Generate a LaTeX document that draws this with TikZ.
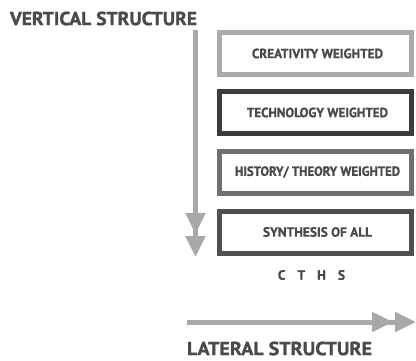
\documentclass[tikz,border=0pt]{standalone}
\usepackage{fontspec}
\setmainfont{PT Sans}[BoldFeatures={FakeBold=1.2}]
\usetikzlibrary{arrows.meta}
\definecolor{arrowgray}{HTML}{A8A8A8}
\definecolor{txtgray}{HTML}{4A4A4A}
\definecolor{boxA}{HTML}{ABABAB}
\definecolor{boxB}{HTML}{3C3C3C}
\definecolor{boxC}{HTML}{707070}
\definecolor{boxD}{HTML}{505050}
\tikzset{
  wbox/.style={draw, line width=5pt, fill=white, minimum width=192pt, minimum height=42pt, inner sep=0pt},
  boxlabel/.style={text=txtgray, font=\bfseries, inner sep=0pt},
  title/.style={text=txtgray, font=\bfseries, inner sep=0pt},
  bigarrow/.style={draw=arrowgray, line width=5pt,
    -{Triangle[length=21pt,width=19pt,fill=arrowgray,sep=2pt]Triangle[length=21pt,width=19pt,fill=arrowgray]}}
}
\begin{document}
\begin{tikzpicture}[x=1pt,y=-1pt]
\useasboundingbox[fill=white] (0,0) rectangle (416,360);
\node[title] (vt) at (103.5,18.5) {\resizebox{187pt}{13.5pt}{VERTICAL STRUCTURE}};
\node[wbox, draw=boxA] (b1) at (315.5,53.5) {};
\node[wbox, draw=boxB] (b2) at (315.5,112.5) {};
\node[wbox, draw=boxC] (b3) at (315.5,172) {};
\node[wbox, draw=boxD] (b4) at (315.5,232) {};
\node[boxlabel] (t1) at (317.5,53.5) {\resizebox{131pt}{9.5pt}{CREATIVITY WEIGHTED}};
\node[boxlabel] (t2) at (317.5,112.5) {\resizebox{141pt}{9.5pt}{TECHNOLOGY WEIGHTED}};
\node[boxlabel] (t3) at (317.5,172) {\resizebox{165pt}{9.5pt}{HISTORY/ THEORY WEIGHTED}};
\node[boxlabel] (t4) at (317.5,232) {\resizebox{109pt}{9.5pt}{SYNTHESIS OF ALL}};
\node[boxlabel, font=\bfseries\fontsize{13.5}{13.5}\selectfont] (cths) at (311.5,275) {C\hspace{12pt}T\hspace{12pt}H\hspace{12pt}S};
\coordinate (vs) at (195.5,30);
\coordinate (ve) at (195.5,257);
\draw[bigarrow] (vs) -- (ve);
\coordinate (hs) at (187,322);
\coordinate (he) at (416,322);
\draw[bigarrow] (hs) -- (he);
\node[title] (lt) at (279.5,348.5) {\resizebox{185pt}{13.5pt}{LATERAL STRUCTURE}};
\end{tikzpicture}
\end{document}
